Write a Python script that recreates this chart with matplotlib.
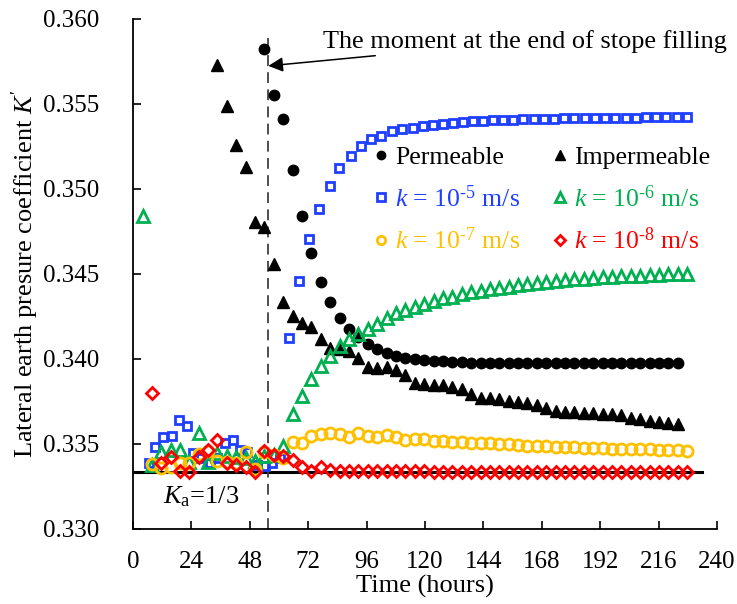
import numpy as np
import matplotlib.pyplot as plt
from matplotlib.lines import Line2D

plt.rcParams['font.family'] = 'Liberation Serif'
plt.rcParams['mathtext.fontset'] = 'custom'
plt.rcParams['mathtext.rm'] = 'Liberation Serif'
plt.rcParams['mathtext.it'] = 'Liberation Serif:italic'

# output times of the coupled model (hours)
hours = [3.9, 7.7, 11.6, 15.4, 19.3, 23.2, 27.0, 30.9, 34.7, 38.6,
         42.5, 46.3, 50.2, 54.0, 57.9, 61.8, 65.6, 69.5, 73.3, 77.2,
         81.1, 84.9, 88.8, 92.6, 96.5, 100.4, 104.2, 108.1, 111.9, 115.8,
         119.7, 123.5, 127.4, 131.2, 135.1, 139.0, 142.8, 146.7, 150.5, 154.4,
         158.3, 162.1, 166.0, 169.8, 173.7, 177.6, 181.4, 185.3, 189.1, 193.0,
         196.9, 200.7, 204.6, 208.4, 212.3, 216.2, 220.0, 223.9, 227.7]

t_fill = 55.6      # end of stope filling
Ka = 1 / 3

# permeable barricade, hours[13:58]
K_perm = [0.35822, 0.35553, 0.35410, 0.35112, 0.34841, 0.34622, 0.34455, 0.34337,
          0.34239, 0.34175, 0.34128, 0.34086, 0.34059, 0.34034, 0.34018, 0.34008,
          0.34000, 0.33994, 0.33990, 0.33987, 0.33984, 0.33981, 0.33979, 0.33978,
          0.33978, 0.33978, 0.33977, 0.33977, 0.33977, 0.33977, 0.33977, 0.33977,
          0.33977, 0.33977, 0.33977, 0.33977, 0.33977, 0.33977, 0.33977, 0.33977,
          0.33977, 0.33977, 0.33977, 0.33977, 0.33977]

# impermeable barricade, hours[8:58]
K_imp = [0.35729, 0.35490, 0.35259, 0.35129, 0.34806, 0.34775, 0.34559, 0.34334,
         0.34253, 0.34214, 0.34186, 0.34118, 0.34066, 0.34057, 0.34047, 0.34004,
         0.33955, 0.33945, 0.33951, 0.33935, 0.33906, 0.33861, 0.33853, 0.33849,
         0.33847, 0.33838, 0.33822, 0.33794, 0.33768, 0.33768, 0.33763, 0.33755,
         0.33749, 0.33743, 0.33728, 0.33710, 0.33692, 0.33690, 0.33686, 0.33684,
         0.33681, 0.33678, 0.33676, 0.33671, 0.33651, 0.33645, 0.33637, 0.33631,
         0.33622, 0.33618]

# k = 1e-5 m/s (own output times)
t_k5 = [6.7, 9.2, 12.2, 15.9, 19.0, 22.1, 24.8, 27.5, 31.6, 34.7,
        37.8, 41.0, 44.0, 46.7, 50.8, 54.2, 57.0, 60.4, 64.1, 68.3,
        72.5, 76.6, 81.0, 84.8, 89.5, 93.7, 97.7, 101.9, 106.3, 110.7,
        115.0, 119.1, 123.2, 127.3, 131.4, 135.5, 139.6, 143.7, 147.8, 152.0,
        156.2, 160.4, 164.6, 168.8, 173.0, 177.2, 181.4, 185.6, 189.8, 194.0,
        198.2, 202.4, 206.6, 210.8, 215.0, 219.2, 223.4, 227.6]
K_k5 = [0.33390, 0.33484, 0.33543, 0.33547, 0.33641, 0.33606, 0.33445, 0.33418, 0.33390, 0.33420,
        0.33504, 0.33524, 0.33465, 0.33455, 0.33376, 0.33371, 0.33386, 0.33418, 0.34122, 0.34459,
        0.34704, 0.34882, 0.35018, 0.35122, 0.35196, 0.35253, 0.35294, 0.35312, 0.35341, 0.35351,
        0.35361, 0.35371, 0.35376, 0.35382, 0.35386, 0.35396, 0.35400, 0.35402, 0.35404, 0.35406,
        0.35408, 0.35410, 0.35412, 0.35414, 0.35414, 0.35416, 0.35416, 0.35418, 0.35418, 0.35418,
        0.35419, 0.35419, 0.35419, 0.35422, 0.35422, 0.35422, 0.35422, 0.35422]

# k = 1e-6 m/s, hours[0:59]
K_k6 = [0.34843, 0.33376, 0.33455, 0.33465, 0.33465, 0.33392, 0.33566, 0.33396, 0.33445, 0.33430,
        0.33425, 0.33420, 0.33400, 0.33430, 0.33433, 0.33490, 0.33675, 0.33782, 0.33884, 0.33959,
        0.34018, 0.34078, 0.34116, 0.34145, 0.34176, 0.34206, 0.34239, 0.34269, 0.34288, 0.34308,
        0.34322, 0.34343, 0.34357, 0.34366, 0.34382, 0.34392, 0.34402, 0.34410, 0.34417, 0.34424,
        0.34435, 0.34441, 0.34449, 0.34455, 0.34461, 0.34465, 0.34469, 0.34473, 0.34476, 0.34480,
        0.34484, 0.34486, 0.34488, 0.34491, 0.34494, 0.34496, 0.34498, 0.34499, 0.34500]

# k = 1e-7 m/s, hours[1:59]
K_k7 = [0.33385, 0.33358, 0.33366, 0.33386, 0.33390, 0.33441, 0.33458, 0.33400, 0.33392, 0.33390,
        0.33455, 0.33350, 0.33455, 0.33438, 0.33416, 0.33514, 0.33504, 0.33547, 0.33557, 0.33566,
        0.33559, 0.33539, 0.33566, 0.33547, 0.33539, 0.33553, 0.33539, 0.33524, 0.33528, 0.33528,
        0.33519, 0.33519, 0.33514, 0.33510, 0.33504, 0.33504, 0.33504, 0.33500, 0.33498, 0.33494,
        0.33490, 0.33488, 0.33486, 0.33484, 0.33482, 0.33481, 0.33478, 0.33476, 0.33474, 0.33472,
        0.33471, 0.33471, 0.33470, 0.33469, 0.33467, 0.33465, 0.33463, 0.33458]

# k = 1e-8 m/s, hours[1:59]
K_k8 = [0.33798, 0.33390, 0.33422, 0.33343, 0.33337, 0.33425, 0.33465, 0.33524, 0.33390, 0.33376,
        0.33366, 0.33337, 0.33460, 0.33435, 0.33429, 0.33406, 0.33366, 0.33343, 0.33366, 0.33347,
        0.33343, 0.33342, 0.33341, 0.33340, 0.33340, 0.33340, 0.33339, 0.33339, 0.33339, 0.33339,
        0.33338, 0.33338, 0.33338, 0.33338, 0.33338, 0.33338, 0.33338, 0.33338, 0.33337, 0.33337,
        0.33337, 0.33337, 0.33337, 0.33337, 0.33337, 0.33337, 0.33337, 0.33337, 0.33337, 0.33337,
        0.33337, 0.33337, 0.33337, 0.33337, 0.33337, 0.33337, 0.33337, 0.33337]

c_blue = '#1f3fff'
c_green = '#00b050'
c_orange = '#ffc000'
c_red = '#ff0000'

fig = plt.figure(figsize=(7.37, 6.04), dpi=100)
ax = fig.add_axes([0.1805, 0.1242, 0.7924, 0.8444])

ax.plot(hours[13:58], K_perm, 'o', color='k', ms=7.5, ls='none')
ax.plot(hours[8:58], K_imp, '^', color='k', ms=9, ls='none')
ax.plot(t_k5, K_k5, 's', mfc='none', mec=c_blue, mew=2, ms=5.8, ls='none')
ax.plot(hours[0:59], K_k6, '^', mfc='none', mec=c_green, mew=2, ms=8, ls='none')
ax.plot(hours[1:59], K_k7, 'o', mfc='none', mec=c_orange, mew=2, ms=8, ls='none')
ax.plot(hours[1:59], K_k8, 'D', mfc='none', mec=c_red, mew=2, ms=6, ls='none')

# active earth pressure coefficient and end of filling
ax.plot([0, 234], [Ka, Ka], color='k', lw=2.2, zorder=1)
ax.plot([t_fill, t_fill], [0.330, 0.3589], color='#404040', lw=1.3,
        ls=(0, (6, 3.5)), zorder=1)
ax.text(12.3, 0.3319, r'$K_{\mathrm{a}}$=1/3', fontsize=19, va='center', ha='left')
ax.annotate('The moment at the end of stope filling', xy=(t_fill, 0.35724),
            xytext=(78.0, 0.35868), fontsize=18.9, va='center', ha='left',
            arrowprops=dict(arrowstyle='-|>', color='k', lw=1.1,
                            mutation_scale=22, shrinkA=0, shrinkB=0))

ax.set_xlim(0, 240)
ax.set_ylim(0.330, 0.360)
ax.set_xticks(np.arange(0, 241, 24))
ax.set_yticks(np.arange(0.330, 0.3601, 0.005))
ax.yaxis.set_major_formatter(plt.FormatStrFormatter('%.3f'))
ax.tick_params(direction='in', length=6, width=1.2, labelsize=18)
ax.tick_params(axis='x', pad=16)
ax.tick_params(axis='y', pad=24)
for s in ['top', 'right']:
    ax.spines[s].set_visible(False)
for s in ['left', 'bottom']:
    ax.spines[s].set_linewidth(1.3)

ax.set_xlabel('Time (hours)', fontsize=19, labelpad=1)
ax.set_ylabel("Lateral earth presure coefficient $K'$", fontsize=19, labelpad=2)

handles = [
    Line2D([], [], marker='o', color='k', ls='none', ms=6),
    Line2D([], [], marker='s', mfc='none', mec=c_blue, mew=2, ms=5.5, ls='none'),
    Line2D([], [], marker='o', mfc='none', mec=c_orange, mew=2, ms=6, ls='none'),
    Line2D([], [], marker='^', color='k', ls='none', ms=7),
    Line2D([], [], marker='^', mfc='none', mec=c_green, mew=2, ms=6.5, ls='none'),
    Line2D([], [], marker='D', mfc='none', mec=c_red, mew=2, ms=5, ls='none'),
]
labels = ['Permeable',
          r'$k$ = 10$^{\text{-5}}$ m/s',
          r'$k$ = 10$^{\text{-7}}$ m/s',
          'Impermeable',
          r'$k$ = 10$^{\text{-6}}$ m/s',
          r'$k$ = 10$^{\text{-8}}$ m/s']
ax.legend(handles, labels, ncol=2, frameon=False, fontsize=18.5,
          labelcolor=['k', c_blue, c_orange, 'k', c_green, c_red],
          loc='upper left', bbox_to_anchor=(373 / 737, 1 - 146 / 604),
          bbox_transform=fig.transFigure, handlelength=0.6, handletextpad=0.25,
          columnspacing=1.25, labelspacing=0.62, borderaxespad=0, borderpad=0)

fig.savefig('out.png', dpi=100)
